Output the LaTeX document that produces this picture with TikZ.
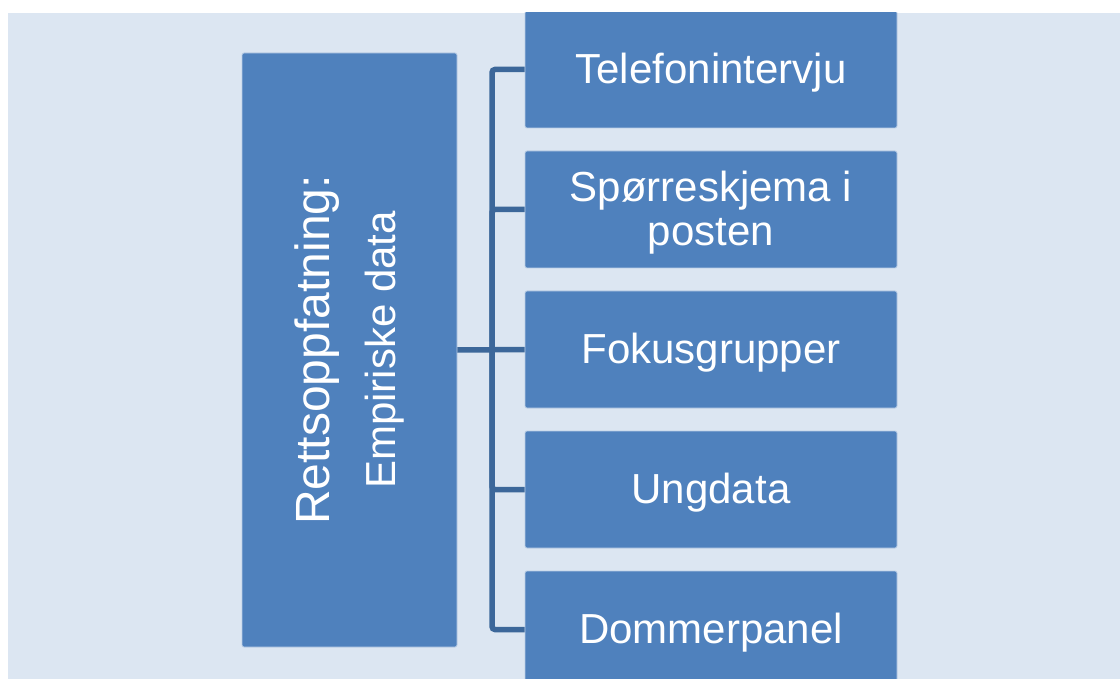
\documentclass[tikz,border=0pt]{standalone}
\usepackage{fontspec}
\setmainfont{Liberation Sans}
\usepackage{graphicx}
\definecolor{bgblue}{HTML}{DCE6F2}
\definecolor{boxblue}{HTML}{4F81BD}
\definecolor{lineblue}{HTML}{3C679A}

\begin{document}
\begin{tikzpicture}[x=1pt,y=-1pt,
  box/.style={draw=white!60!boxblue, line width=0.8pt, fill=boxblue, rounded corners=2pt,
    inner sep=0pt},
  itembox/.style={box, minimum width=372pt, minimum height=117pt},
  itemtext/.style={text=white, inner sep=0pt, align=center,
    font=\fontsize{42}{44}\selectfont},
  conn/.style={draw=lineblue, line width=5.5pt, rounded corners=3pt}]
\useasboundingbox (0,0) rectangle (1120,679);
\fill[bgblue] (8,13) rectangle (1120,679);
\begin{scope}
\clip (8,13) rectangle (1120,679);
% left box
\node[box, text=white, minimum width=215pt, minimum height=594pt] (main) at (349.5,350)
  {\rotatebox{90}{\parbox{560pt}{\centering
   \fontsize{48}{66}\selectfont Rettsoppfatning:\\
   \fontsize{42}{66}\selectfont Empiriske data}}};
% right boxes
\foreach \n/\y/\t in {tel/69.5/{Telefonintervju},
                      post/209.5/{Spørreskjema i\\posten},
                      fokus/349.5/{Fokusgrupper},
                      ung/489.5/{Ungdata},
                      dommer/629.5/{Dommerpanel}}
{       \node[itembox] (\n) at (711,\y) {};
        \node[itemtext] (\n-text) at ([yshift=-3.5pt]\n.center) {\t};
}
% connectors
\coordinate (hub) at (492,349.5);
\draw[conn] (main.east) -- (fokus.west);
\foreach \n in {tel,post,ung,dommer}
{       \draw[conn] (hub) |- (\n.west);
}
\end{scope}
\end{tikzpicture}
\end{document}
